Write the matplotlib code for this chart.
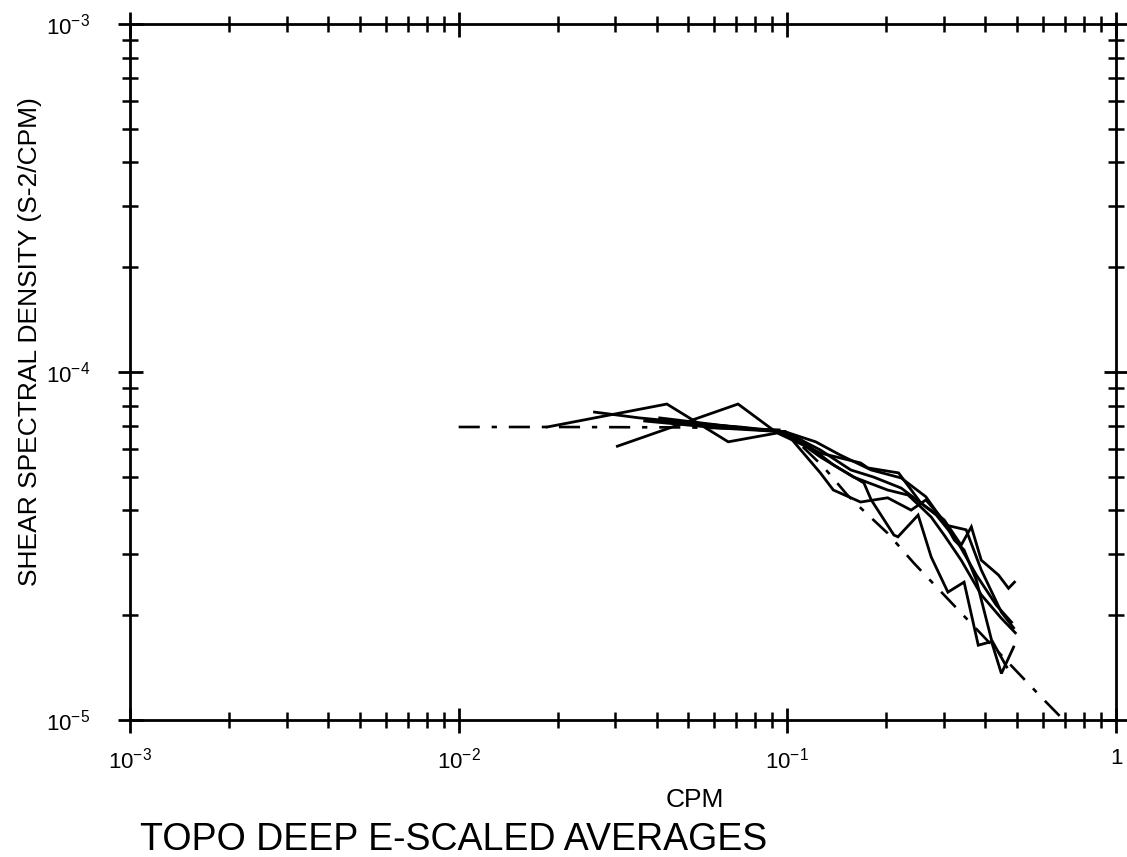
import matplotlib
matplotlib.use("Agg")
import matplotlib.pyplot as plt
from matplotlib.ticker import LogLocator, FixedLocator, NullFormatter

plt.rcParams['font.family'] = ['Liberation Sans', 'DejaVu Sans']
plt.rcParams['mathtext.default'] = 'regular'

# ---- data ----
model_x = [0.01, 0.02, 0.05, 0.08, 0.0986, 0.129, 0.152, 0.167, 0.202, 0.243, 0.338, 0.594, 0.693, 0.8]
model_y = [6.95e-5, 6.95e-5, 6.93e-5, 6.86e-5, 6.81e-5, 5.33e-5, 4.44e-5, 4.07e-5, 3.44e-5, 2.82e-5, 2.03e-5, 1.16e-5, 1.0e-5, 0.86e-5]

s1_x = [0.0186, 0.0430, 0.0661, 0.0932, 0.126, 0.167, 0.176, 0.218, 0.255, 0.300, 0.338, 0.363, 0.389, 0.439, 0.471, 0.491]
s1_y = [6.95e-5, 8.09e-5, 6.30e-5, 6.68e-5, 5.85e-5, 5.48e-5, 5.30e-5, 5.13e-5, 4.20e-5, 3.76e-5, 3.18e-5, 3.59e-5, 2.88e-5, 2.61e-5, 2.39e-5, 2.49e-5]

s2_x = [0.0259, 0.0355, 0.0542, 0.0986, 0.126, 0.159, 0.202, 0.233, 0.255, 0.274, 0.300, 0.338, 0.389, 0.448, 0.494]
s2_y = [7.67e-5, 7.38e-5, 7.10e-5, 6.73e-5, 5.70e-5, 4.99e-5, 4.58e-5, 4.43e-5, 4.09e-5, 3.83e-5, 3.40e-5, 2.88e-5, 2.29e-5, 1.96e-5, 1.78e-5]

s3_x = [0.0304, 0.0708, 0.0906, 0.110, 0.138, 0.171, 0.180, 0.211, 0.217, 0.250, 0.274, 0.308, 0.345, 0.381, 0.418, 0.448, 0.488]
s3_y = [6.12e-5, 8.09e-5, 6.81e-5, 6.38e-5, 5.41e-5, 4.80e-5, 4.29e-5, 3.40e-5, 3.36e-5, 3.88e-5, 2.94e-5, 2.33e-5, 2.49e-5, 1.64e-5, 1.68e-5, 1.36e-5, 1.62e-5]

s4_x = [0.0368, 0.0624, 0.0986, 0.126, 0.138, 0.167, 0.202, 0.238, 0.264, 0.298, 0.322, 0.345, 0.376, 0.418, 0.465]
s4_y = [7.23e-5, 6.90e-5, 6.73e-5, 5.13e-5, 4.58e-5, 4.23e-5, 4.35e-5, 4.01e-5, 4.29e-5, 3.76e-5, 3.29e-5, 3.08e-5, 2.52e-5, 1.70e-5, 1.42e-5]

s5_x = [0.0381, 0.0718, 0.0986, 0.126, 0.156, 0.183, 0.222, 0.255, 0.284, 0.327, 0.376, 0.432, 0.481]
s5_y = [7.28e-5, 6.95e-5, 6.73e-5, 5.97e-5, 5.23e-5, 4.99e-5, 4.64e-5, 4.20e-5, 3.88e-5, 3.29e-5, 2.61e-5, 2.14e-5, 1.91e-5]

s6_x = [0.0409, 0.0827, 0.0986, 0.122, 0.145, 0.180, 0.222, 0.264, 0.304, 0.350, 0.389, 0.448, 0.488]
s6_y = [7.38e-5, 6.81e-5, 6.73e-5, 6.30e-5, 5.77e-5, 5.23e-5, 4.96e-5, 4.38e-5, 3.63e-5, 3.52e-5, 2.70e-5, 2.04e-5, 1.84e-5]

series = [(s1_x, s1_y), (s2_x, s2_y), (s3_x, s3_y), (s4_x, s4_y), (s5_x, s5_y), (s6_x, s6_y)]

x_ticks = [1e-3, 1e-2, 1e-1, 1]
x_labels = ['$10^{-3}$', '$10^{-2}$', '$10^{-1}$', '1']
y_ticks = [1e-5, 1e-4, 1e-3]
y_labels = ['$10^{-5}$', '$10^{-4}$', '$10^{-3}$']

# ---- figure ----
fig = plt.figure(figsize=(11.27, 8.57), dpi=100)
ax = fig.add_axes([130/1127, 1-720/857, (1116-130)/1127, (720-24)/857])
ax.set_xscale('log')
ax.set_yscale('log')
ax.set_xlim(1e-3, 1)
ax.set_ylim(1e-5, 1e-3)

for sx, sy in series:
    ax.plot(sx, sy, color='black', lw=2.0, solid_joinstyle='miter')

ax.plot(model_x, model_y, color='black', lw=1.9, linestyle=(0, (8, 4.5, 2, 4.5)))

for sp in ax.spines.values():
    sp.set_linewidth(2.0)

ax.xaxis.set_major_locator(FixedLocator(x_ticks))
ax.yaxis.set_major_locator(FixedLocator(y_ticks))
ax.xaxis.set_minor_locator(LogLocator(base=10, subs=range(2, 10), numticks=20))
ax.yaxis.set_minor_locator(LogLocator(base=10, subs=range(2, 10), numticks=20))
ax.xaxis.set_minor_formatter(NullFormatter())
ax.yaxis.set_minor_formatter(NullFormatter())
ax.set_xticklabels(x_labels)
ax.set_yticklabels(y_labels)

ax.tick_params(which='major', direction='inout', length=18, width=2.0,
               top=True, right=True, labelsize=16)
ax.tick_params(which='minor', direction='inout', length=12, width=1.8,
               top=True, right=True)
ax.tick_params(axis='x', which='major', pad=11)
ax.tick_params(axis='y', which='major', pad=20)

fig.text(695/1127, 1-800/857, 'CPM', ha='center', va='center', fontsize=19)
fig.text(30/1127, 1-342/857, 'SHEAR SPECTRAL DENSITY (S-2/CPM)', ha='center', va='center',
         rotation=90, fontsize=19)
fig.text(140/1127, 1-840/857, 'TOPO DEEP E-SCALED AVERAGES', ha='left', va='center', fontsize=27)

fig.savefig('out.png', dpi=100)
